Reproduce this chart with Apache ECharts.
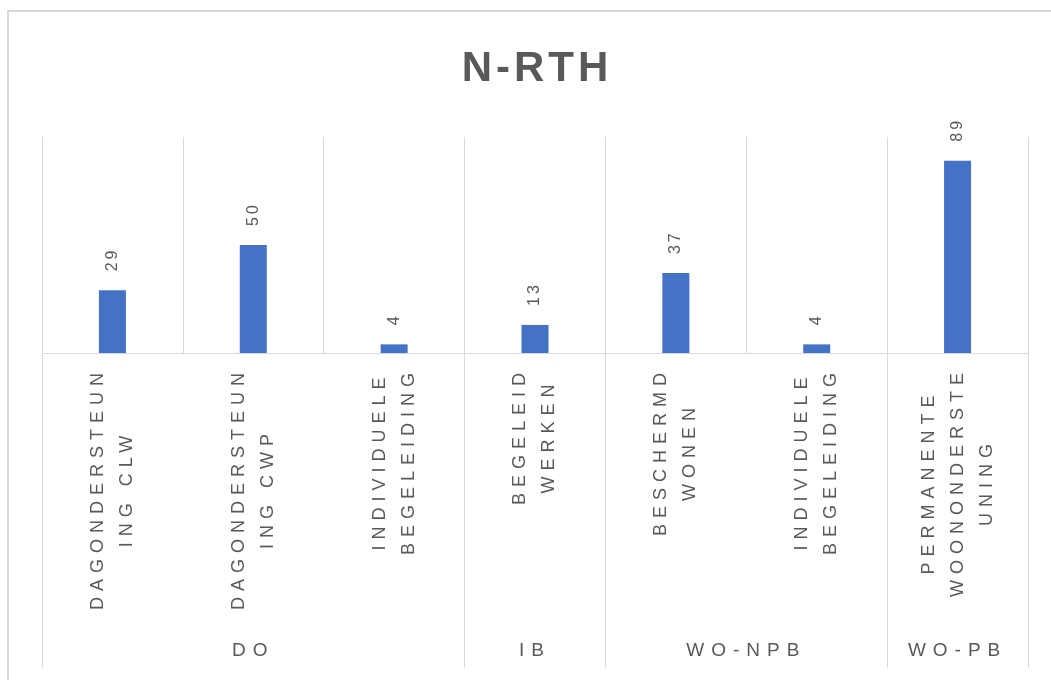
<!DOCTYPE html>
<html>
<head>
<meta charset="utf-8">
<script src="https://cdn.jsdelivr.net/npm/echarts@6/dist/echarts.min.js"></script>
<style>
  html, body { margin: 0; padding: 0; background: #ffffff; }
  #frame { position: absolute; left: 7px; top: 10px; width: 1100px; height: 700px; border: 2px solid #d9d9d9; box-sizing: border-box; }
  #chart { position: absolute; left: 0; top: 0; width: 1051px; height: 680px; }
</style>
</head>
<body>
<div id="frame"></div>
<div id="chart"></div>
<script>
// ---- data ----
const titleText = 'N-RTH';
const categories = [
  'DAGONDERSTEUN\nING CLW',
  'DAGONDERSTEUN\nING CWP',
  'INDIVIDUELE\nBEGELEIDING',
  'BEGELEID\nWERKEN',
  'BESCHERMD\nWONEN',
  'INDIVIDUELE\nBEGELEIDING',
  'PERMANENTE\nWOONONDERSTE\nUNING'
];
const values = [29, 50, 4, 13, 37, 4, 89];
const groupNames = ['DO', 'IB', 'WO-NPB', 'WO-PB'];
const groupSizes = [3, 1, 2, 1];

// ---- letter spacing per font size (Excel-style tracking) ----
const trackingBySize = { 42: 4, 18: 6, 19: 7, 16: 3 };
(function () {
  const P = CanvasRenderingContext2D.prototype;
  function apply(ctx) {
    const m = /(\d+(?:\.\d+)?)px/.exec(ctx.font);
    const s = m ? (trackingBySize[Math.round(+m[1])] || 0) : 0;
    if ('letterSpacing' in ctx) ctx.letterSpacing = s + 'px';
  }
  const ft = P.fillText, st = P.strokeText, mt = P.measureText;
  P.fillText = function () { apply(this); return ft.apply(this, arguments); };
  P.strokeText = function () { apply(this); return st.apply(this, arguments); };
  P.measureText = function () { apply(this); return mt.apply(this, arguments); };
})();

// group boundaries and centres on a 0..N scale
const boundaries = [0];
groupSizes.forEach(s => boundaries.push(boundaries[boundaries.length - 1] + s));
const centres = groupSizes.map((s, i) => boundaries[i] + s / 2);

const textColor = '#595959';
const lineColor = '#d9d9d9';
const font = 'Liberation Sans';

const chart = echarts.init(document.getElementById('chart'), null, { renderer: 'canvas' });
chart.setOption({
  backgroundColor: 'transparent',
  animation: false,
  title: {
    text: titleText,
    left: 532,
    textAlign: 'center',
    top: 41,
    textStyle: { fontFamily: font, fontSize: 42, fontWeight: 'bold', color: textColor }
  },
  grid: { left: 42, right: 23, top: 137, bottom: 327 },
  xAxis: [
    {
      type: 'category',
      data: categories,
      position: 'bottom',
      axisLine: { show: true, lineStyle: { color: lineColor, width: 1 } },
      axisTick: { show: false },
      splitLine: { show: true, lineStyle: { color: lineColor, width: 1 } },
      axisLabel: {
        interval: 0,
        rotate: 90,
        margin: 14,
        formatter: v => v.split('\n').map(l => '{c|' + l + '}').join('\n'),
        rich: {
          c: { align: 'center', fontFamily: font, fontSize: 18, color: textColor, lineHeight: 29 }
        }
      }
    },
    {
      type: 'value',
      position: 'bottom',
      min: 0,
      max: boundaries[boundaries.length - 1],
      axisLine: { show: false },
      splitLine: { show: false },
      axisTick: {
        show: true,
        customValues: boundaries,
        length: 315,
        lineStyle: { color: lineColor, width: 1 }
      },
      axisLabel: {
        customValues: centres,
        margin: 285,
        fontFamily: font,
        fontSize: 19,
        color: textColor,
        formatter: v => {
          const i = centres.findIndex(c => Math.abs(c - v) < 1e-6);
          return i >= 0 ? groupNames[i] : '';
        }
      }
    }
  ],
  yAxis: {
    type: 'value',
    min: 0,
    max: 100,
    show: false,
    splitLine: { show: false }
  },
  series: [
    {
      type: 'bar',
      xAxisIndex: 0,
      data: values,
      barWidth: 27,
      itemStyle: { color: '#4472C4' },
      label: {
        show: true,
        position: 'top',
        distance: 19,
        rotate: 90,
        align: 'left',
        verticalAlign: 'middle',
        fontFamily: font,
        fontSize: 16,
        color: textColor
      }
    }
  ]
});
</script>
</body>
</html>
